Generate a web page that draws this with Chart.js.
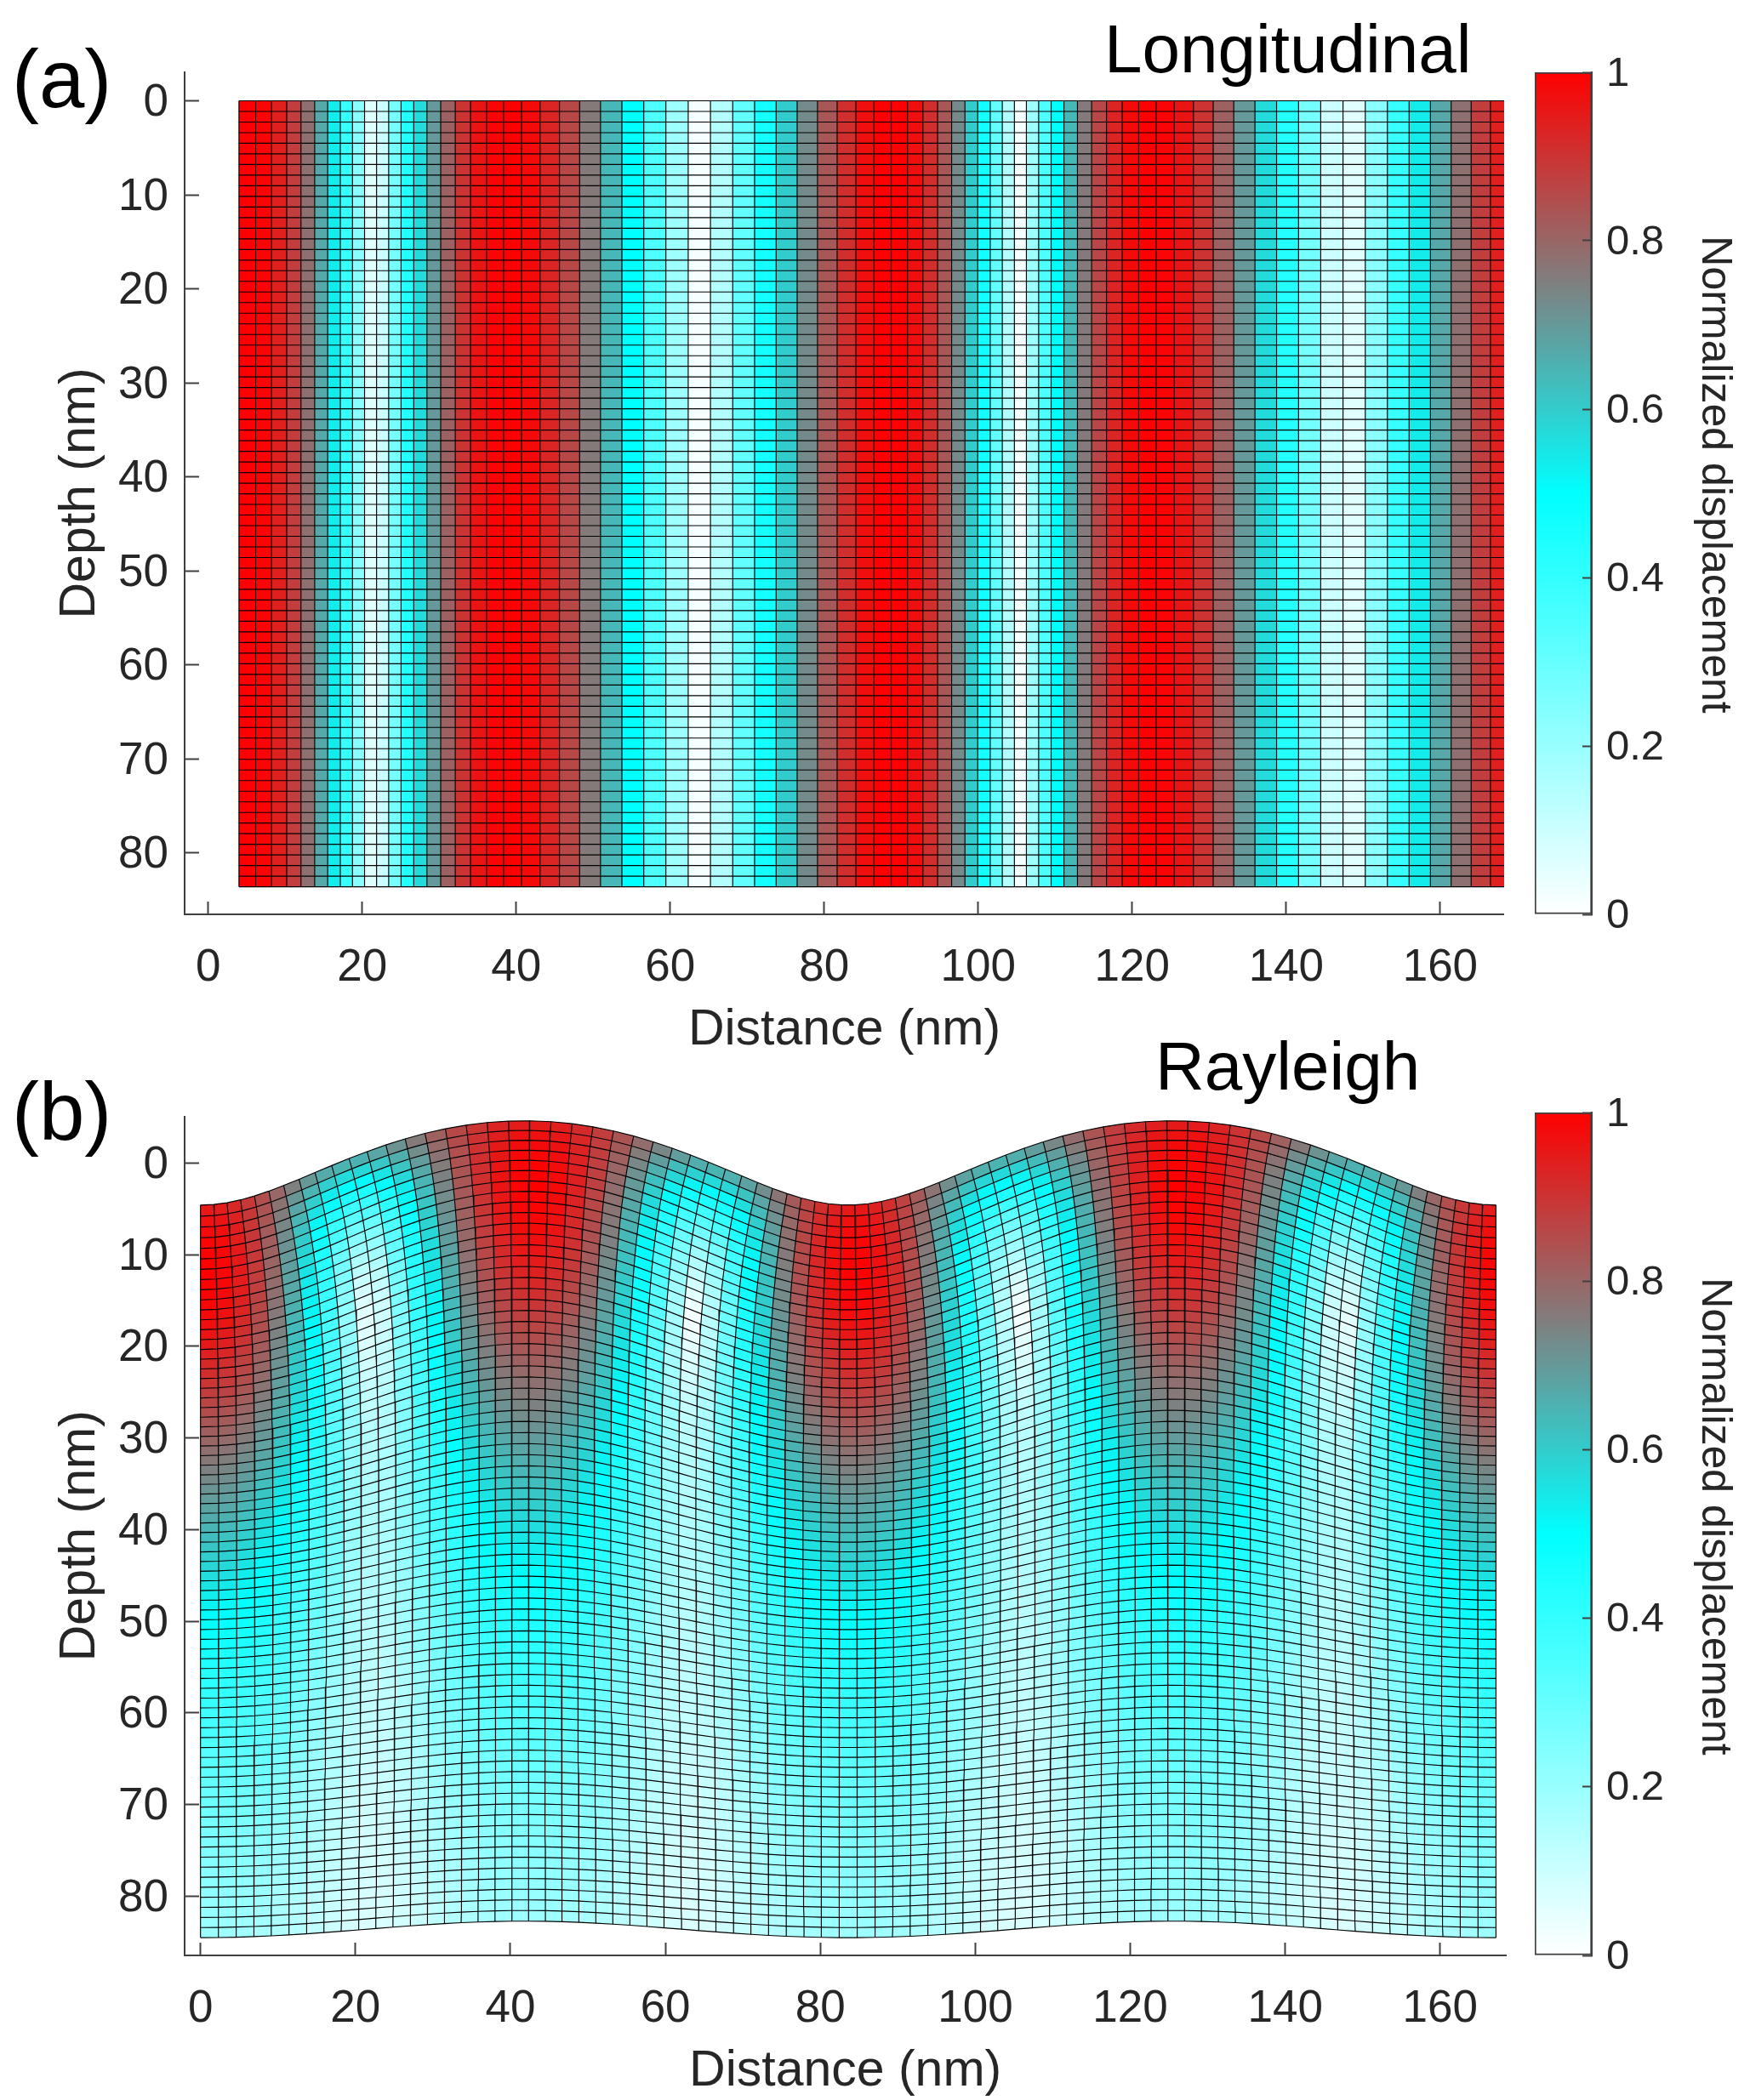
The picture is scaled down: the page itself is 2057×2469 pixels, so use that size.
<!DOCTYPE html>
<html><head><meta charset="utf-8">
<script src="https://cdn.jsdelivr.net/npm/chart.js@4"></script>
<style>
html,body{margin:0;padding:0;background:#fff;}
body{position:relative;width:2057px;height:2469px;overflow:hidden;font-family:"Liberation Sans",Arial,sans-serif;}
canvas{position:absolute;display:block;}
.t{position:absolute;line-height:1;white-space:nowrap;color:#000;}
.cb{position:absolute;line-height:1;white-space:nowrap;color:#262626;font-size:50px;transform:translate(-50%,-50%) rotate(90deg);}
</style></head><body>
<div class="t" style="font-size:96px;left:14px;top:45px">(a)</div>
<div class="t" style="font-size:96px;left:14px;top:1259px">(b)</div>
<div class="t" style="font-size:80px;left:1298px;top:18px">Longitudinal</div>
<div class="t" style="font-size:80px;left:1358px;top:1214px">Rayleigh</div>
<div class="cb" style="left:2018px;top:558px">Normalized displacement</div>
<div class="cb" style="left:2018px;top:1783px">Normalized displacement</div>
<canvas id="meshA" width="1790" height="1250" style="left:0;top:0"></canvas>
<canvas id="barA" width="267" height="1100" style="left:1790px;top:0"></canvas>
<canvas id="meshB" width="1790" height="1219" style="left:0;top:1250px"></canvas>
<canvas id="barB" width="267" height="1100" style="left:1790px;top:1250px"></canvas>
<script>
// ---------- axis ticks ----------
const distanceTicks = [0,20,40,60,80,100,120,140,160];
const depthTicks = [0,10,20,30,40,50,60,70,80];
const colorbarTicks = [0,0.2,0.4,0.6,0.8,1];
// ---------- colour bar ----------
const colormapValues = [0,0.5,1];
const colormapColors = ['#ffffff','#00ffff','#ff0000'];
// ---------- mesh rows: depth (nm) of each horizontal mesh line ----------
const rowDepths = [0,1.13,2.26,3.39,4.52,5.65,6.78,7.91,9.04,10.17,11.3,12.43,13.56,14.69,15.82,16.95,18.08,19.21,20.34,21.47,22.6,23.73,24.86,25.99,27.12,28.25,29.38,30.51,31.64,32.77,33.9,35.03,36.16,37.29,38.42,39.55,40.68,41.81,42.94,44.07,45.2,46.33,47.46,48.59,49.72,50.85,51.98,53.11,54.24,55.37,56.5,57.63,58.76,59.89,61.02,62.15,63.28,64.41,65.54,66.67,67.8,68.93,70.06,71.19,72.32,73.45,74.58,75.71,76.84,77.97,79.1,80.23,81.36,82.49,83.62];
// ---------- panel (a) ----------
const longitudinalEdges = [4.00,6.17,8.24,10.20,12.05,13.83,15.52,17.16,18.74,20.31,21.87,23.44,25.05,26.70,28.41,30.20,32.09,34.07,36.16,38.36,40.68,43.10,45.62,48.24,50.95,53.73,56.57,59.44,62.34,65.23,68.12,70.96,73.76,76.49,79.13,81.68,84.12,86.47,88.70,90.81,92.82,94.73,96.55,98.28,99.94,101.56,103.13,104.70,106.26,107.85,109.47,111.14,112.89,114.73,116.66,118.70,120.84,123.10,125.47,127.95,130.52,133.19,135.94,138.75,141.60,144.48,147.38,150.27,153.14,155.96,158.73,161.42,164.02,166.52,168.91];
const longitudinalValues = [1.00,.99,.94,.88,.78,.67,.54,.39,.23,.06,.10,.27,.43,.57,.70,.81,.90,.96,.99,1.00,.98,.93,.86,.76,.64,.50,.35,.19,.02,.15,.31,.46,.60,.73,.83,.91,.97,1.00,1.00,.97,.91,.83,.73,.60,.46,.31,.15,.02,.19,.35,.50,.64,.76,.86,.93,.98,1.00,.99,.96,.90,.81,.70,.57,.43,.27,.10,.06,.23,.39,.54,.67,.78,.88,.94];
// ---------- panel (b): mesh tabulated by column and by row ----------
const columnRest = [0,2.23,4.46,6.69,8.92,11.15,13.38,15.61,17.83,20.06,22.29,24.52,26.75,28.98,31.21,33.44,35.67,37.9,40.13,42.36,44.59,46.82,49.04,51.27,53.5,55.73,57.96,60.19,62.42,64.65,66.88,69.11,71.34,73.57,75.8,78.03,80.25,82.48,84.71,86.94,89.17,91.4,93.63,95.86,98.09,100.32,102.55,104.78,107.01,109.24,111.47,113.69,115.92,118.15,120.38,122.61,124.84,127.07,129.3,131.53,133.76,135.99,138.22,140.45,142.68,144.9,147.13,149.36,151.59,153.82,156.05,158.28,160.51,162.74,164.97,167.2];
const columnVertical = [1,.986,.9444,.8763,.7837,.6691,.5358,.3875,.2284,.0628,-.1045,-.2689,-.4258,-.5707,-.6997,-.809,-.8957,-.9573,-.9921,-.9991,-.9781,-.9298,-.8554,-.757,-.6374,-.5,-.3486,-.1874,-.0209,.1461,.309,.4633,.6046,.729,.8329,.9135,.9686,.9965,.9965,.9686,.9135,.8329,.729,.6046,.4633,.309,.1461,-.0209,-.1874,-.3486,-.5,-.6374,-.757,-.8554,-.9298,-.9781,-.9991,-.9921,-.9573,-.8957,-.809,-.6997,-.5707,-.4258,-.2689,-.1045,.0628,.2284,.3875,.5358,.6691,.7837,.8763,.9444,.986,1];
const columnHorizontal = [0,.1668,.3289,.4818,.6211,.7431,.8443,.9219,.9736,.998,.9945,.9632,.9048,.8211,.7145,.5878,.4446,.289,.1253,-.0419,-.2079,-.3681,-.518,-.6534,-.7705,-.866,-.9373,-.9823,-.9998,-.9893,-.9511,-.8862,-.7965,-.6845,-.5534,-.4067,-.2487,-.0837,.0837,.2487,.4067,.5534,.6845,.7965,.8862,.9511,.9893,.9998,.9823,.9373,.866,.7705,.6534,.518,.3681,.2079,.0419,-.1253,-.289,-.4446,-.5878,-.7145,-.8211,-.9048,-.9632,-.9945,-.998,-.9736,-.9219,-.8443,-.7431,-.6211,-.4818,-.3289,-.1668,0];
const rowShiftVertical = [4.60,4.68,4.74,4.78,4.81,4.83,4.83,4.82,4.80,4.77,4.74,4.69,4.64,4.59,4.53,4.46,4.40,4.33,4.25,4.18,4.10,4.02,3.94,3.86,3.77,3.69,3.61,3.53,3.44,3.36,3.28,3.20,3.12,3.04,2.96,2.89,2.81,2.74,2.66,2.59,2.52,2.45,2.38,2.32,2.25,2.19,2.12,2.06,2.00,1.95,1.89,1.83,1.78,1.73,1.68,1.63,1.58,1.53,1.48,1.44,1.40,1.35,1.31,1.27,1.23,1.19,1.16,1.12,1.09,1.05,1.02,.99,.96,.93,.90];
const rowShiftHorizontal = [-3.13,-2.76,-2.42,-2.11,-1.82,-1.56,-1.32,-1.10,-.90,-.72,-.55,-.40,-.27,-.14,-.03,.07,.16,.24,.31,.37,.43,.48,.53,.56,.60,.63,.65,.67,.69,.70,.71,.72,.73,.73,.73,.73,.73,.73,.72,.72,.71,.70,.69,.68,.67,.66,.65,.64,.63,.62,.61,.59,.58,.57,.56,.54,.53,.52,.51,.49,.48,.47,.46,.45,.43,.42,.41,.40,.39,.38,.37,.36,.35,.34,.33];
const peakShift = 4.83;

const FONT = '"Liberation Sans",Arial,sans-serif';
const INK = '#262626', AXIS = '#404040';

function toColor(v){
  const p = v < colormapValues[1] ? 0 : 1;
  const t = (v - colormapValues[p]) / (colormapValues[p+1] - colormapValues[p]);
  const hex = c => [1,3,5].map(k => parseInt(c.substr(k,2),16));
  const a = hex(colormapColors[p]), b = hex(colormapColors[p+1]);
  return 'rgb(' + a.map((x,k) => Math.round(x + (b[k]-x)*t)).join(',') + ')';
}
const cell = (pts,color) => ({data:pts,fill:'shape',backgroundColor:color,borderWidth:0});
const gridLine = pts => ({data:pts,fill:false,borderColor:'#000',borderWidth:1.15});
// nudges a y axis' tick labels down so digit centres sit where the reference puts them
function nudgeLabels(s,dy){
  if(s._nudged) return;
  s._nudged = true;
  const f = s._computeLabelItems.bind(s);
  s._computeLabelItems = a => f(a).map(it => { it.options.translation = [it.options.translation[0], it.options.translation[1]+dy]; return it; });
}

function longitudinalDatasets(){
  const lines = [], cells = [];
  const d0 = rowDepths[0], d1 = rowDepths[rowDepths.length-1];
  const x0 = longitudinalEdges[0], x1 = longitudinalEdges[longitudinalEdges.length-1];
  rowDepths.forEach(d => lines.push(gridLine([{x:x0,y:d},{x:x1,y:d}])));
  longitudinalEdges.forEach(x => lines.push(gridLine([{x:x,y:d0},{x:x,y:d1}])));
  longitudinalValues.forEach((v,i) => {
    const a = longitudinalEdges[i], b = longitudinalEdges[i+1];
    cells.push(cell([{x:a,y:d0},{x:b,y:d0},{x:b,y:d1},{x:a,y:d1}],toColor(v)));
  });
  return lines.concat(cells);
}
function rayleighDatasets(){
  const node = (i,j) => ({
    x: columnRest[i] + rowShiftHorizontal[j]*columnHorizontal[i],
    y: rowDepths[j] + rowShiftVertical[j]*columnVertical[i]
  });
  const lines = [], cells = [];
  rowDepths.forEach((_,j) => lines.push(gridLine(columnRest.map((_,i) => node(i,j)))));
  columnRest.forEach((_,i) => lines.push(gridLine(rowDepths.map((_,j) => node(i,j)))));
  for (let j=0;j<rowDepths.length-1;j++) for (let i=0;i<columnRest.length-1;i++){
    const v = Math.hypot(rowShiftHorizontal[j]*columnHorizontal[i], rowShiftVertical[j]*columnVertical[i]) / peakShift;
    cells.push(cell([node(i,j),node(i+1,j),node(i+1,j+1),node(i,j+1)],toColor(Math.min(v,1))));
  }
  return lines.concat(cells);
}
function meshChart(id,datasets,g){
  const H = document.getElementById(id).height;
  new Chart(document.getElementById(id),{
    type:'line',
    data:{datasets},
    options:{
      responsive:false,animation:false,devicePixelRatio:1,events:[],
      layout:{padding:{top:g.top,right:1790-1771,left:0,bottom:0}},
      elements:{point:{radius:0},line:{tension:0}},
      plugins:{legend:{display:false},tooltip:{enabled:false},title:{display:false}},
      scales:{
        x:{type:'linear',position:'bottom',min:g.xMin,max:g.xMax,
          afterFit:s=>{s.height=H-g.bottom;},
          afterBuildTicks:s=>{s.ticks=distanceTicks.map(v=>({value:v}));},
          border:{display:true,color:AXIS,width:2},
          grid:{drawOnChartArea:false,drawTicks:true,tickLength:-15,tickWidth:2,tickColor:AXIS},
          ticks:{autoSkip:false,maxRotation:0,minRotation:0,padding:g.xPad,color:INK,font:{family:FONT,size:53,lineHeight:1},callback:v=>String(v)},
          title:{display:true,text:'Distance (nm)',color:INK,font:{family:FONT,size:59,lineHeight:1},padding:{top:0,bottom:g.xTitlePad}}
        },
        y:{type:'linear',position:'left',reverse:true,min:g.yMin,max:g.yMax,
          afterFit:s=>{s.width=217;nudgeLabels(s,3);},
          afterBuildTicks:s=>{s.ticks=depthTicks.map(v=>({value:v}));},
          border:{display:true,color:AXIS,width:2},
          grid:{drawOnChartArea:false,drawTicks:true,tickLength:-17,tickWidth:2,tickColor:AXIS},
          ticks:{autoSkip:false,padding:36,color:INK,font:{family:FONT,size:53,lineHeight:1},callback:v=>String(v)},
          title:{display:true,text:'Depth (nm)',color:INK,font:{family:FONT,size:59,lineHeight:1},padding:{top:65,bottom:0}}
        }
      }
    }
  });
}
function colorbarChart(id,top,bottom){
  const H = document.getElementById(id).height;
  new Chart(document.getElementById(id),{
    type:'bar',
    data:{labels:[''],datasets:[{
      data:[[colorbarTicks[0],colorbarTicks[colorbarTicks.length-1]]],
      barPercentage:1,categoryPercentage:1,borderWidth:2,borderColor:AXIS,borderSkipped:false,
      backgroundColor:ctx=>{
        const c = ctx.chart, a = c.chartArea;
        if(!a) return colormapColors[1];
        const g = c.ctx.createLinearGradient(0,a.bottom,0,a.top);
        colormapValues.forEach((v,k)=>g.addColorStop(v,colormapColors[k]));
        return g;
      }
    }]},
    options:{
      responsive:false,animation:false,devicePixelRatio:1,events:[],
      layout:{padding:{top:top,left:14,right:0,bottom:H-bottom}},
      plugins:{legend:{display:false},tooltip:{enabled:false}},
      scales:{
        x:{display:false},
        y:{type:'linear',position:'right',min:0,max:1,
          afterFit:s=>{s.width=186;s.paddingTop=0;s.paddingBottom=0;nudgeLabels(s,2);},
          afterBuildTicks:s=>{s.ticks=colorbarTicks.map(v=>({value:v}));},
          border:{display:true,color:AXIS,width:2,z:1},
          grid:{drawOnChartArea:false,drawTicks:true,tickLength:-11,tickWidth:2,tickColor:AXIS,z:1},
          ticks:{autoSkip:false,padding:28,color:INK,crossAlign:'near',font:{family:FONT,size:49,lineHeight:1},callback:v=>String(v)}
        }
      }
    }
  });
}
meshChart('meshA',longitudinalDatasets(),{top:85,bottom:1075,xMin:-3.06,xMax:168.3,yMin:-3.03,yMax:86.55,xPad:52,xTitlePad:9});
colorbarChart('barA',85,1075);
meshChart('meshB',rayleighDatasets(),{top:58,bottom:1049,xMin:-2.05,xMax:168.5,yMin:-5.08,yMax:86.46,xPad:52,xTitlePad:4});
colorbarChart('barB',58,1049);
</script>
</body></html>
